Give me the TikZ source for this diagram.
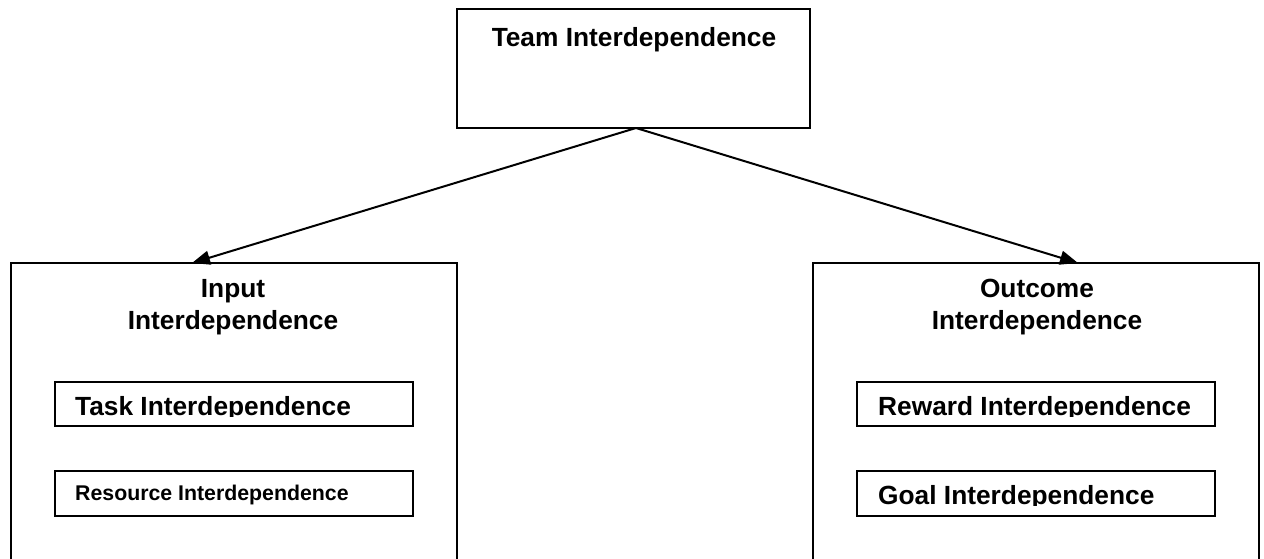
\documentclass[tikz,border=0pt]{standalone}
\usepackage{fontspec}
\setmainfont{Liberation Sans}
\usetikzlibrary{arrows.meta}
\tikzset{
  box/.style={draw=black, line width=2pt, rectangle, inner sep=0pt, fill=none},
  big/.style={font=\fontsize{26.3}{32}\selectfont\bfseries, inner sep=0pt},
  small/.style={font=\fontsize{21.3}{26}\selectfont\bfseries, inner sep=0pt},
  conn/.style={line width=2pt, -{Triangle[length=18pt,width=14pt]}}
}
\begin{document}
\begin{tikzpicture}[x=1pt,y=-1pt]
\clip (0,0) rectangle (1264,558);
\fill[white] (0,0) rectangle (1264,558);
% top box
\node[box, minimum width=353pt, minimum height=119pt] (team) at (633.5,68.5) {};
\node[big, anchor=base] (teamT) at (634,46) {Team Interdependence};
% left and right big boxes
\node[box, minimum width=446pt, minimum height=400pt] (inB) at (234,463) {};
\node[box, minimum width=446pt, minimum height=400pt] (outB) at (1036,463) {};
\coordinate (inTip) at (192,263);
\coordinate (outTip) at (1078,263);
\coordinate (src) at (636,128);
\draw[conn] (src) -- (inTip);
\draw[conn] (src) -- (outTip);
% titles
\node[big, anchor=base] (inT1) at (233,297) {Input};
\node[big, anchor=base] (inT2) at (233,329) {Interdependence};
\node[big, anchor=base] (outT1) at (1037,297) {Outcome};
\node[big, anchor=base] (outT2) at (1037,329) {Interdependence};
% inner boxes
\node[box, minimum width=358pt, minimum height=44pt] (task) at (234,404) {};
\node[box, minimum width=358pt, minimum height=45pt] (res) at (234,493.5) {};
\node[box, minimum width=358pt, minimum height=44pt] (rew) at (1036,404) {};
\node[box, minimum width=358pt, minimum height=45pt] (goal) at (1036,493.5) {};
\begin{scope}
\clip (55,382) rectangle (413,416.5);
\node[big, anchor=base west] (taskT) at (75,415) {Task Interdependence};
\end{scope}
\node[small, anchor=base west] (resT) at (75,500) {Resource Interdependence};
\begin{scope}
\clip (857,382) rectangle (1215,416.5);
\node[big, anchor=base west] (rewT) at (878,415) {Reward Interdependence};
\end{scope}
\begin{scope}
\clip (857,471) rectangle (1215,505.5);
\node[big, anchor=base west] (goalT) at (878,504) {Goal Interdependence};
\end{scope}
\end{tikzpicture}
\end{document}
